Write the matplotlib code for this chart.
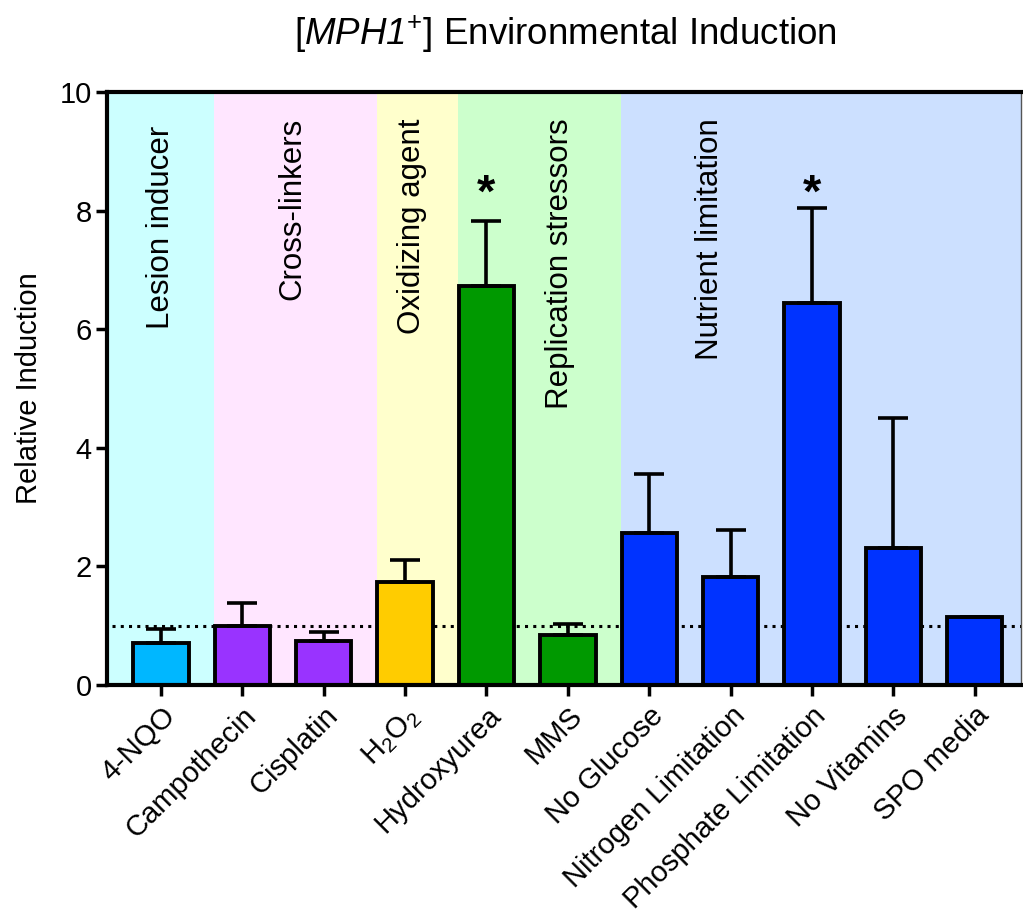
# [MPH1+] environmental induction bar chart
import numpy as np
import matplotlib
matplotlib.use("Agg")
import matplotlib.pyplot as plt

plt.rcParams['font.family'] = ['Liberation Sans', 'DejaVu Sans']
plt.rcParams['mathtext.fontset'] = 'custom'
plt.rcParams['mathtext.rm'] = 'Liberation Sans'
plt.rcParams['mathtext.it'] = 'Liberation Sans:italic'
plt.rcParams['mathtext.sf'] = 'Liberation Sans:italic'  # italic that also slants digits

# data
conditions = ['4-NQO', 'Campothecin', 'Cisplatin', r'H$_2$O$_2$', 'Hydroxyurea', 'MMS',
              'No Glucose', 'Nitrogen Limitation', 'Phosphate Limitation', 'No Vitamins', 'SPO media']
induction = [0.71, 0.99, 0.74, 1.73, 6.72, 0.85, 2.57, 1.82, 6.44, 2.31, 1.15]
upper_err = [0.23, 0.39, 0.16, 0.37, 1.11, 0.18, 0.99, 0.79, 1.60, 2.19, 0.0]
significant = [4, 8]

bar_colors = ['#00B7FF', '#9933FF', '#9933FF', '#FFCC00', '#009900', '#009900',
              '#0033FF', '#0033FF', '#0033FF', '#0033FF', '#0033FF']

group_names = ['Lesion inducer', 'Cross-linkers', 'Oxidizing agent', 'Replication stressors', 'Nutrient limitation']
group_first = [0, 1, 3, 4, 6]
group_last = [0, 2, 3, 5, 10]
group_bg = ['#CCFFFF', '#FFE6FF', '#FFFFCC', '#CCFFCC', '#CCE0FF']

# where the group captions sit (layout, not data)
label_x = [0.0, 1.61, 3.09, 4.9, 6.75]
label_top = [9.43, 9.56, 9.56, 9.56, 9.56]

fig = plt.figure(figsize=(10.23, 9.17), dpi=100)
ax = fig.add_axes([0.1046, 0.253, 0.8934, 0.6467])

x = np.arange(len(conditions))
xmin, xmax = -0.665, 10.57
ax.set_xlim(xmin, xmax)
ax.set_ylim(0, 10)

# shaded background per group of conditions
for k in range(len(group_names)):
    left = xmin if k == 0 else group_first[k] - 0.35
    right = xmax if k == len(group_names) - 1 else group_last[k] + 0.65
    ax.axvspan(left, right, color=group_bg[k], zorder=0, lw=0)
    ax.text(label_x[k], label_top[k], group_names[k], rotation=90, ha='center', va='top',
            fontsize=22.5, zorder=1)

ax.axhline(1, xmin=0.005, color='black', lw=2.2, linestyle=(0, (1, 1.7)), zorder=1)

ax.bar(x, induction, width=0.68, color=bar_colors, edgecolor='black', linewidth=2.8, zorder=2)
ax.errorbar(x, induction, yerr=[np.zeros(len(x)), upper_err], fmt='none', ecolor='black',
            elinewidth=2.6, capsize=11, capthick=2.6, zorder=3)

# significance stars sit at the same height over both bars
for i in significant:
    ax.text(x[i], 7.9, '*', ha='center', va='bottom', fontsize=34, fontweight='bold')

ax.set_xticks(x)
ax.set_xticklabels(conditions, rotation=45, ha='right', va='top', rotation_mode='anchor', fontsize=21)
ax.set_yticks([0, 2, 4, 6, 8, 10])
ax.tick_params(axis='y', labelsize=21, width=2.5, length=8, pad=3)
ax.tick_params(axis='x', width=2.5, length=8, pad=4)
ax.set_ylabel('Relative Induction', fontsize=21, labelpad=12)

for side in ['left', 'bottom', 'top']:
    ax.spines[side].set_linewidth(3)
ax.spines['right'].set_linewidth(1)
ax.spines['right'].set_color('#555555')

fig.suptitle(r'[$\mathsf{MPH1}^{\mathrm{+}}$] Environmental Induction', fontsize=26.5, x=0.553, y=0.985)

fig.savefig('out.png', dpi=100)
